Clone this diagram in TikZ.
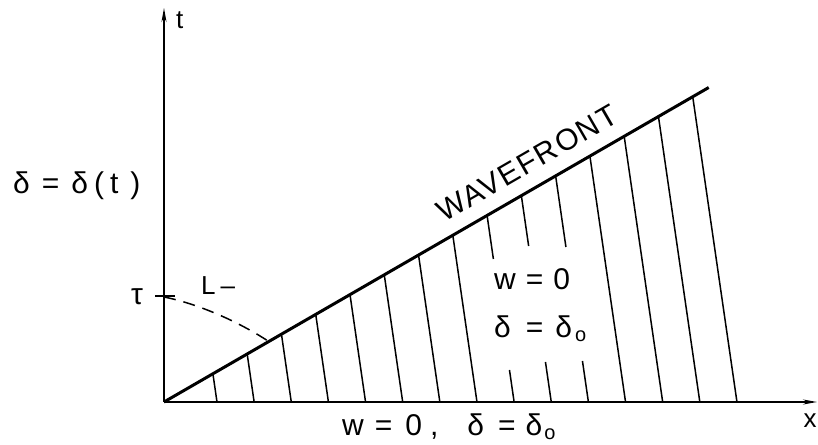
\documentclass[tikz,border=0pt]{standalone}
\usepackage{fontspec}
\setmainfont{Liberation Sans}
\newfontfamily\spacedfont[LetterSpace=6]{Liberation Sans}
\usetikzlibrary{arrows.meta,calc}
\newcommand\gap[1]{\hspace{#1pt}}
\newcommand\lowo{\raisebox{-4pt}{\fontsize{20}{20}\selectfont o}}
\tikzset{
  axis/.style={
    line width = 1.5pt,
    -{Stealth[length=14pt,width=5pt]}
  },
  front/.style={
    line width = 3pt
  },
  hatch/.style={
    line width = 1.5pt
  },
  lab/.style={
    inner sep = 0pt,
    font = \fontsize{30}{30}\selectfont
  },
  smalllab/.style={
    inner sep = 0pt,
    font = \fontsize{26}{26}\selectfont
  }
}

\begin{document}
\begin{tikzpicture}[x=1pt,y=1pt]
    \useasboundingbox (-164,-42) rectangle (654,402);

    \coordinate (O) at (0,0);
    \coordinate (ttip) at (0,394);
    \coordinate (xtip) at (653,0);
    \coordinate (F) at (30:629);

    \draw[axis] (O) -- (ttip);
    \draw[axis] (O) -- (xtip);
    \draw[front] (O) -- (F);

    % hatching under the wavefront
    \foreach \i in {0,1,2,3,4,5,6,7,11,12,13,14}{
        \pgfmathsetmacro\xb{53+37.14*\i}
        \draw[hatch] (\xb,0) -- ({0.9228*\xb},{0.5327*\xb});
    }
    \foreach \i/\ya/\yb in {8/143/32, 9/156/40, 10/155/41}{
        \pgfmathsetmacro\xb{53+37.14*\i}
        \draw[hatch] (\xb,0) -- ({\xb-0.145*\yb},\yb);
        \draw[hatch] ({\xb-0.145*\ya},\ya) -- ({0.9228*\xb},{0.5327*\xb});
    }

    % tau and the L- characteristic
    \coordinate (tauL) at (-9,106);
    \coordinate (tauR) at (11,106);
    \draw[hatch] (tauL) -- (tauR);
    \coordinate (Lend) at (30:121);
    \draw[hatch, dash pattern=on 12pt off 8pt] (0,105) .. controls (35,98) and (75,80) .. (Lend);

    \node[lab] (tau) at (-27,105) {τ};
    \node[smalllab, anchor=base west] (Llab) at (37,107) {L\gap{5}–};
    \node[smalllab, anchor=west] (tlab) at (12,382) {t};
    \node[smalllab] (xlab) at (646,-19) {x};

    \node[lab, rotate=30, anchor=base] (wf) at ($(O)!0.69!(F)+(120:15)$) {\spacedfont WAVEFRONT};

    \node[lab, anchor=base west] (deltat) at (-151,208)
        {δ\gap{12}=\gap{12}δ\gap{6}(\gap{6}t\gap{12})};
    \node[lab, anchor=base west] (inside) at (330,112)
        {w\gap{10}=\gap{10}0};
    \node[lab, anchor=base west] (insideb) at (330,64)
        {δ\gap{15}=\gap{12}δ\gap{3}\lowo};
    \node[lab, anchor=base west] (bottom) at (178,-33)
        {w\gap{11}=\gap{13}0\gap{8},\gap{29}δ\gap{14}=\gap{10}δ\gap{2}\lowo};
\end{tikzpicture}
\end{document}
